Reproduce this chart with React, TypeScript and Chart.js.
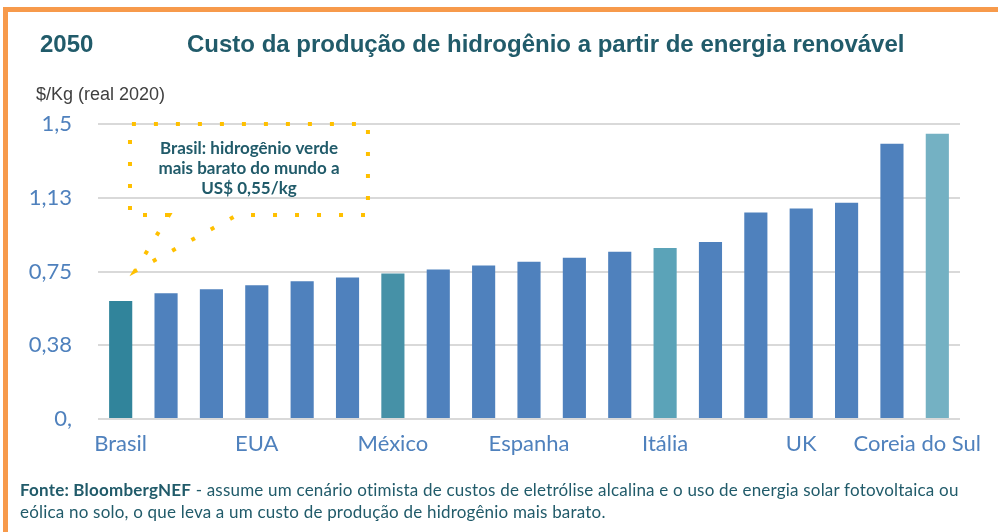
import React, { useEffect, useRef } from "react";
import { Chart, registerables } from "chart.js";

Chart.register(...registerables);

// ---- data ----
const categories = [
  "Brasil", "", "", "EUA", "", "", "México", "", "", "Espanha",
  "", "", "Itália", "", "", "UK", "", "", "Coreia do Sul",
];
const costs = [
  0.60, 0.64, 0.66, 0.68, 0.70, 0.72, 0.74, 0.76, 0.78, 0.80,
  0.82, 0.85, 0.87, 0.90, 1.05, 1.07, 1.10, 1.40, 1.45,
];
const yTickValues = [0, 0.375, 0.75, 1.125, 1.5];
const yTickLabels = ["0,", "0,38", "0,75", "1,13", "1,5"];
const calloutLines = ["Brasil: hidrogênio verde", "mais barato do mundo a", "US$ 0,55/kg"];

// ---- styles ----
const BLUE = "#4F81BD";
const barColors = categories.map((_, i) => {
  if (i === 0) return "#31849B";
  if (i === 6) return "#4691A7";
  if (i === 12) return "#5BA3B8";
  if (i === 18) return "#74B1C3";
  return BLUE;
});
const TEAL_TEXT = "#215B6A";

// callout geometry in data space (category index, value)
const callout = {
  left: 0.205,
  right: 5.45,
  top: 1.5,
  bottom: 1.037,
  tailA: 1.065,
  tailB: 2.564,
  tipX: 0.316,
  tipY: 0.7525,
};

const xLabelPlugin = {
  id: "xLabels",
  afterDraw(chart: any) {
    const { ctx, scales } = chart;
    const x = scales.x;
    ctx.save();
    ctx.font = "22px Lato";
    ctx.fillStyle = BLUE;
    ctx.textAlign = "center";
    ctx.textBaseline = "alphabetic";
    const maxRight = chart.width - 17;
    categories.forEach((lab, i) => {
      if (!lab) return;
      const w = ctx.measureText(lab).width;
      let cx = x.getPixelForValue(i);
      if (cx + w / 2 > maxRight) cx = maxRight - w / 2;
      ctx.fillText(lab, cx, chart.chartArea.bottom + 32);
    });
    ctx.restore();
  },
};

const calloutPlugin = {
  id: "callout",
  afterDatasetsDraw(chart: any) {
    const { ctx, scales } = chart;
    const x = scales.x;
    const y = scales.y;
    const L = x.getPixelForValue(callout.left);
    const R = x.getPixelForValue(callout.right);
    const T = y.getPixelForValue(callout.top);
    const B = y.getPixelForValue(callout.bottom);
    const A = x.getPixelForValue(callout.tailA);
    const Bx = x.getPixelForValue(callout.tailB);
    const tx = x.getPixelForValue(callout.tipX);
    const ty = y.getPixelForValue(callout.tipY);
    ctx.save();
    ctx.strokeStyle = "#FFC000";
    ctx.lineWidth = 4;
    ctx.lineCap = "butt";
    ctx.setLineDash([4, 18]);
    ctx.beginPath();
    ctx.moveTo(A, B);
    ctx.lineTo(L, B);
    ctx.lineTo(L, T);
    ctx.lineTo(R, T);
    ctx.lineTo(R, B);
    ctx.lineTo(Bx, B);
    ctx.lineTo(tx, ty);
    ctx.closePath();
    ctx.stroke();
    ctx.setLineDash([]);
    ctx.fillStyle = TEAL_TEXT;
    ctx.font = "bold 17px Lato";
    ctx.textAlign = "center";
    ctx.textBaseline = "alphabetic";
    const cx = (L + R) / 2;
    calloutLines.forEach((line, i) => {
      ctx.fillText(line, cx, T + 30 + i * 20);
    });
    ctx.restore();
  },
};

export default function App() {
  const ref = useRef<HTMLCanvasElement | null>(null);

  useEffect(() => {
    if (!ref.current) return;
    const chart = new Chart(ref.current, {
      type: "bar",
      data: {
        labels: categories,
        datasets: [
          {
            data: costs,
            backgroundColor: barColors,
            borderWidth: 0,
            barPercentage: 0.51,
            categoryPercentage: 1,
          },
        ],
      },
      options: {
        responsive: false,
        animation: false,
        devicePixelRatio: 1,
        layout: { padding: { left: 0, right: 38, top: 124, bottom: 53 } },
        plugins: {
          legend: { display: false },
          tooltip: { enabled: false },
          title: { display: false },
        },
        scales: {
          x: {
            grid: { display: false },
            border: { display: false },
            ticks: { display: false },
            afterFit(scale: any) {
              scale.height = 60;
              scale.paddingLeft = 0;
              scale.paddingRight = 0;
            },
          },
          y: {
            min: 0,
            max: 1.5,
            grid: { color: "#D9D9D9", lineWidth: 2, drawTicks: false },
            border: { display: false },
            ticks: {
              stepSize: 0.375,
              padding: 26,
              color: BLUE,
              font: { family: "Lato", size: 22 },
              callback: (v: any) => {
                const idx = yTickValues.findIndex((t) => Math.abs(t - Number(v)) < 1e-6);
                return idx >= 0 ? yTickLabels[idx] : "";
              },
            },
            afterFit(scale: any) {
              scale.width = 98;
            },
          },
        },
      },
      plugins: [calloutPlugin, xLabelPlugin],
    });
    let alive = true;
    if ((document as any).fonts) {
      Promise.all([
        (document as any).fonts.load("22px Lato"),
        (document as any).fonts.load("bold 17px Lato"),
      ]).then(() => {
        if (alive) chart.update();
      }).catch(() => {});
    }
    return () => {
      alive = false;
      chart.destroy();
    };
  }, []);

  return (
    <div
      style={{
        position: "fixed",
        left: 0,
        top: 0,
        width: 998,
        height: 532,
        overflow: "hidden",
        background: "#fff",
      }}
    >
      <div
        style={{
          position: "absolute",
          left: 3,
          top: 7,
          width: 1200,
          height: 800,
          border: "5px solid #F79A4B",
          boxSizing: "border-box",
        }}
      />
      <canvas
        ref={ref}
        width={998}
        height={532}
        style={{ position: "absolute", left: 0, top: 0, width: 998, height: 532 }}
      />
      <div
        style={{
          position: "absolute",
          left: 40,
          top: 32,
          font: "bold 24px 'Liberation Sans', Arial, sans-serif",
          lineHeight: "24px",
          color: TEAL_TEXT,
          whiteSpace: "nowrap",
        }}
      >
        2050
      </div>
      <div
        style={{
          position: "absolute",
          left: 187,
          top: 32,
          font: "bold 24px 'Liberation Sans', Arial, sans-serif",
          lineHeight: "24px",
          color: TEAL_TEXT,
          whiteSpace: "nowrap",
        }}
      >
        Custo da produção de hidrogênio a partir de energia renovável
      </div>
      <div
        style={{
          position: "absolute",
          left: 36,
          top: 85,
          font: "18px 'Liberation Sans', Arial, sans-serif",
          lineHeight: "18px",
          color: "#404040",
          whiteSpace: "nowrap",
        }}
      >
        $/Kg (real 2020)
      </div>
      <div
        style={{
          position: "absolute",
          left: 20,
          top: 479,
          font: "17px Lato, sans-serif",
          letterSpacing: "0.2px",
          lineHeight: "22px",
          color: TEAL_TEXT,
          whiteSpace: "nowrap",
        }}
      >
        <b>Fonte: BloombergNEF</b> - assume um cenário otimista de custos de eletrólise alcalina e o uso de energia solar fotovoltaica ou
        <br />
        eólica no solo, o que leva a um custo de produção de hidrogênio mais barato.
      </div>
    </div>
  );
}
